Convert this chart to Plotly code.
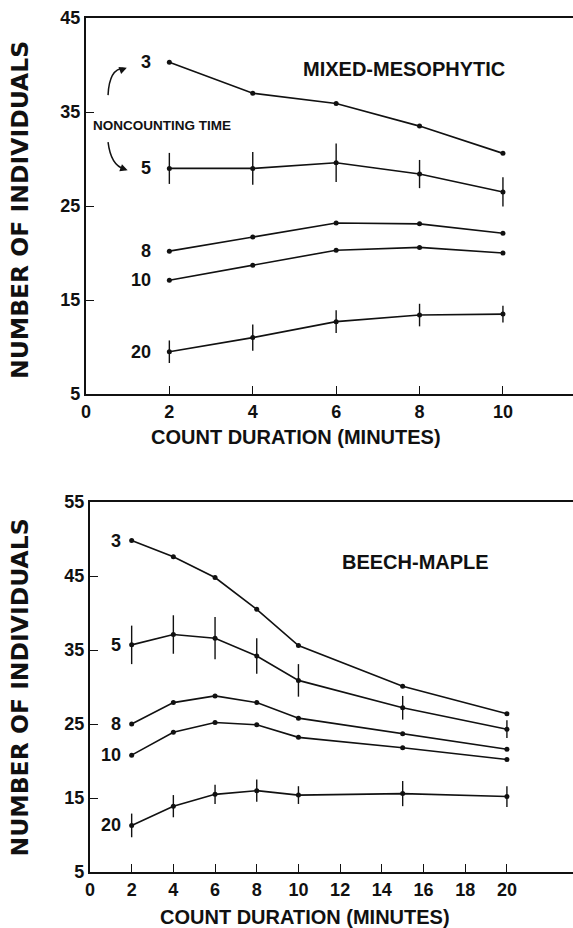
import plotly.graph_objects as go

# ---------------- data ----------------
series_names = ["3", "5", "8", "10", "20"]

mm_x = [2, 4, 6, 8, 10]
mm_3 = [40.3, 37.0, 35.9, 33.5, 30.6]
mm_5 = [29.0, 29.0, 29.6, 28.4, 26.5]
mm_5_err = [1.65, 1.75, 2.05, 1.5, 1.55]
mm_8 = [20.2, 21.7, 23.2, 23.1, 22.1]
mm_10 = [17.1, 18.7, 20.3, 20.6, 20.0]
mm_20 = [9.5, 11.0, 12.7, 13.4, 13.5]
mm_20_err = [1.2, 1.4, 1.2, 1.2, 0.9]

bm_x = [2, 4, 6, 8, 10, 15, 20]
bm_3 = [49.8, 47.6, 44.8, 40.5, 35.6, 30.1, 26.4]
bm_5 = [35.7, 37.1, 36.6, 34.2, 30.9, 27.2, 24.3]
bm_5_err = [2.6, 2.6, 2.85, 2.4, 2.2, 1.6, 1.2]
bm_8 = [25.0, 27.9, 28.8, 27.9, 25.8, 23.7, 21.6]
bm_10 = [20.8, 23.9, 25.2, 24.9, 23.2, 21.8, 20.2]
bm_20 = [11.3, 13.9, 15.5, 16.0, 15.4, 15.6, 15.2]
bm_20_err = [1.6, 1.5, 1.3, 1.5, 1.2, 1.7, 1.4]

mm_xticks = [0, 2, 4, 6, 8, 10]
bm_xticks = [0, 2, 4, 6, 8, 10, 12, 14, 16, 18, 20]
mm_yticks = [5, 15, 25, 35, 45]
bm_yticks = [5, 15, 25, 35, 45, 55]

x_title = "COUNT DURATION (MINUTES)"
y_title = "NUMBER OF INDIVIDUALS"

# ---------------- figure ----------------
FONT = "Liberation Sans, Arial, Helvetica, sans-serif"
YFONT = "DejaVu Sans, Liberation Sans, sans-serif"
INK = "#111111"

fig = go.Figure()

mm_series = [(mm_3, None), (mm_5, mm_5_err), (mm_8, None), (mm_10, None), (mm_20, mm_20_err)]
bm_series = [(bm_3, None), (bm_5, bm_5_err), (bm_8, None), (bm_10, None), (bm_20, bm_20_err)]


def add_series(xs, series, xa, ya):
    for name, (ys, err) in zip(series_names, series):
        kw = {}
        if err is not None:
            kw["error_y"] = dict(type="data", array=err, visible=True,
                                 color=INK, thickness=1.4, width=0)
        fig.add_trace(go.Scatter(
            x=xs, y=ys, mode="lines+markers", name=name,
            line=dict(color=INK, width=1.6),
            marker=dict(color=INK, size=5),
            xaxis=xa, yaxis=ya, showlegend=False, **kw))


add_series(mm_x, mm_series, "x", "y")
add_series(bm_x, bm_series, "x2", "y2")

axis_common = dict(
    showgrid=False, zeroline=False, showline=True, linecolor=INK, linewidth=2,
    ticks="inside", ticklen=8, tickwidth=1.3, tickcolor=INK, automargin=False,
    tickfont=dict(family=FONT, size=18, color=INK, weight="bold"),
)

annotations = []
label_x = 1.6
for name, (ys, _) in zip(series_names, mm_series):
    annotations.append(dict(x=label_x, y=ys[0], xref="x", yref="y", text=name,
                            showarrow=False, xanchor="right", yanchor="middle",
                            font=dict(family=FONT, size=18, color=INK, weight="bold")))
for name, (ys, _) in zip(series_names, bm_series):
    annotations.append(dict(x=label_x, y=ys[0], xref="x2", yref="y2", text=name,
                            showarrow=False, xanchor="right", yanchor="middle",
                            font=dict(family=FONT, size=18, color=INK, weight="bold")))

title_font = dict(family=FONT, size=20, color=INK, weight="bold")
ytitle_font = dict(family=YFONT, size=23.5, color=INK, weight="bold")
annotations += [
    # axis titles
    dict(x=0.5166, y=0.529, xref="paper", yref="paper", text=x_title,
         showarrow=False, xanchor="center", yanchor="middle", font=title_font),
    dict(x=0.532, y=0.0119, xref="paper", yref="paper", text=x_title,
         showarrow=False, xanchor="center", yanchor="middle", font=title_font),
    dict(x=0.0349, y=0.7737, xref="paper", yref="paper", text=y_title, textangle=-90,
         showarrow=False, xanchor="center", yanchor="middle", font=ytitle_font),
    dict(x=0.0349, y=0.2592, xref="paper", yref="paper", text=y_title, textangle=-90,
         showarrow=False, xanchor="center", yanchor="middle", font=ytitle_font),
    # panel names
    dict(x=0.705, y=0.926, xref="paper", yref="paper", text="MIXED-MESOPHYTIC",
         showarrow=False, xanchor="center", yanchor="middle",
         font=dict(family=FONT, size=20, color=INK, weight="bold")),
    dict(x=0.726, y=0.394, xref="paper", yref="paper", text="BEECH-MAPLE",
         showarrow=False, xanchor="center", yanchor="middle",
         font=dict(family=FONT, size=20, color=INK, weight="bold")),
    dict(x=0.1595, y=0.8645, xref="paper", yref="paper", text="NONCOUNTING TIME",
         showarrow=False, xanchor="left", yanchor="middle",
         font=dict(family=FONT, size=13.5, color=INK, weight="bold")),
    # arrow heads of the two curved pointers
    dict(x=0.98, y=39.7, ax=0.80, ay=39.4, xref="x", yref="y", axref="x", ayref="y",
         text="", showarrow=True, arrowhead=2, arrowsize=1, arrowwidth=1.5, arrowcolor=INK),
    dict(x=1.0, y=28.8, ax=0.82, ay=29.1, xref="x", yref="y", axref="x", ayref="y",
         text="", showarrow=True, arrowhead=2, arrowsize=1, arrowwidth=1.5, arrowcolor=INK),
]

shapes = [
    dict(type="path", xref="x", yref="y",
         path="M 0.53,36.8 Q 0.56,39.6 0.90,39.65",
         line=dict(color=INK, width=1.5)),
    dict(type="path", xref="x", yref="y",
         path="M 0.53,31.8 Q 0.60,29.3 0.92,28.95",
         line=dict(color=INK, width=1.5)),
]

fig.update_layout(
    width=573, height=928,
    margin=dict(l=0, r=0, t=0, b=0),
    paper_bgcolor="white", plot_bgcolor="white",
    font=dict(family=FONT, color=INK),
    xaxis=dict(domain=[0.150, 1.0], anchor="y", range=[0, 11.68],
               tickvals=mm_xticks, mirror=True, **axis_common),
    yaxis=dict(domain=[0.5754, 0.9806], anchor="x", range=[5, 45],
               tickvals=mm_yticks, **axis_common),
    xaxis2=dict(domain=[0.157, 1.0], anchor="y2", range=[0, 23.17],
                tickvals=bm_xticks, mirror=True, **axis_common),
    yaxis2=dict(domain=[0.0603, 0.459], anchor="x2", range=[5, 55],
                tickvals=bm_yticks, **axis_common),
    annotations=annotations,
    shapes=shapes,
)

fig.write_html("out.html", config={"displayModeBar": False},
               post_script="document.body.style.margin='0';document.body.style.overflow='hidden';")
